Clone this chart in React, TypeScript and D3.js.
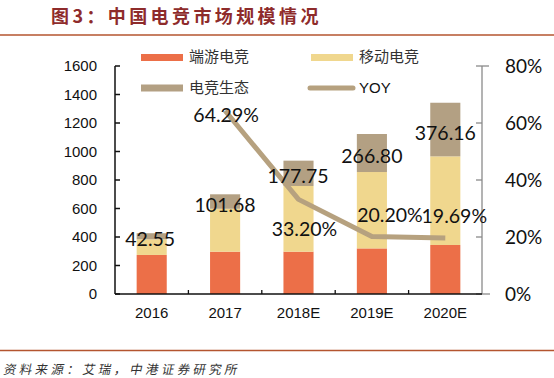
import React from "react";
import * as d3 from "d3";

const categories = ["2016", "2017", "2018E", "2019E", "2020E"];
const pcGame = [274, 297, 297, 320, 344];
const mobileGame = [110, 301, 461, 536, 622];
const ecosystem = [42.55, 101.68, 177.75, 266.8, 376.16];
const ecoLabels = ["42.55", "101.68", "177.75", "266.80", "376.16"];
const yoyCats = ["2017", "2018E", "2019E", "2020E"];
const yoy = [64.29, 33.2, 20.2, 19.69];
const yoyLabels = ["64.29%", "33.20%", "20.20%", "19.69%"];
const leftTicks = [0, 200, 400, 600, 800, 1000, 1200, 1400, 1600];
const rightTicks = [0, 20, 40, 60, 80];
const seriesNames = ["端游电竞", "移动电竞", "电竞生态", "YOY"];

const COLORS = { pc: "#ec6f48", mobile: "#f0d78e", eco: "#b3a083", yoy: "#b6a17f" };
// manual label offsets (style only)
const yoyLabelOffset = [
  [1, 4],
  [6, 30],
  [18, -21],
  [9, -22],
];
const ecoLabelDx = [-1.5, 0, -0.5, 0, 0];

export default function App() {
  const left = 115, right = 482, top = 66, bottom = 294;
  const x = d3.scaleBand<string>().domain(categories).range([left, right]).paddingInner(0.59).paddingOuter(0.295);
  const y = d3.scaleLinear().domain([0, 1600]).range([bottom, top]);
  const y2 = d3.scaleLinear().domain([0, 80]).range([bottom, top]);
  const bw = x.bandwidth();
  const step = x.step();
  const cx = (c: string) => (x(c) as number) + bw / 2;

  const stacked = d3.stack<any>().keys(["pc", "mobile", "eco"])(
    categories.map((c, i) => ({ cat: c, pc: pcGame[i], mobile: mobileGame[i], eco: ecosystem[i] }))
  );
  const colorFor: Record<string, string> = { pc: COLORS.pc, mobile: COLORS.mobile, eco: COLORS.eco };

  const line = d3
    .line<number>()
    .x((_, i) => cx(yoyCats[i]))
    .y((d) => y2(d));

  const numFont = "Lato, 'Open Sans', sans-serif";
  const axFont = "'Liberation Sans', Arial, sans-serif";
  const cjk = "'Noto Sans CJK SC', sans-serif";

  return (
    <svg width={554} height={378} style={{ position: "absolute", left: 0, top: 0, background: "#fff" }}>
      {/* title */}
      <text x={51} y={23} fontFamily={cjk} fontWeight={700} fontSize={18} fill="#8e2b2b" letterSpacing={3.4}>
        图3：中国电竞市场规模情况
      </text>
      <line x1={0} x2={554} y1={35} y2={35} stroke="#b4552f" strokeWidth={1.5} />

      {/* bars */}
      {stacked.map((s) => (
        <g key={s.key} fill={colorFor[s.key]}>
          {s.map((d, i) => (
            <rect key={i} x={x(categories[i])} width={bw} y={y(d[1])} height={y(d[0]) - y(d[1])} />
          ))}
        </g>
      ))}

      {/* left axis */}
      <line x1={left} x2={left} y1={top} y2={bottom} stroke="#111" strokeWidth={1.5} />
      {leftTicks.map((t) => (
        <g key={t}>
          <line x1={left} x2={left + 5} y1={y(t)} y2={y(t)} stroke="#111" strokeWidth={1.5} />
          <text x={97} y={y(t)} dy="0.36em" textAnchor="end" fontFamily={axFont} fontSize={15} fill="#111">
            {t}
          </text>
        </g>
      ))}

      {/* right axis */}
      <line x1={right} x2={right} y1={top} y2={bottom} stroke="#8a8a8a" strokeWidth={1.3} />
      {rightTicks.map((t) => (
        <g key={t}>
          <line x1={right - 6} x2={right} y1={y2(t)} y2={y2(t)} stroke="#8a8a8a" strokeWidth={1.3} />
          <text x={505} y={y2(t)} dy="0.36em" fontFamily={numFont} fontSize={19} fill="#111">
            {t}%
          </text>
        </g>
      ))}
      <line x1={right} x2={right + 7} y1={top} y2={top} stroke="#8a8a8a" strokeWidth={1.3} />

      {/* bottom axis */}
      <line x1={left} x2={right} y1={bottom} y2={bottom} stroke="#111" strokeWidth={1.5} />
      <line x1={right} x2={490} y1={bottom} y2={bottom} stroke="#8a8a8a" strokeWidth={1.3} />
      {categories.slice(1).map((c) => (
        <line key={c} x1={(x(c) as number) - (step - bw) / 2} x2={(x(c) as number) - (step - bw) / 2} y1={bottom} y2={bottom - 4} stroke="#111" strokeWidth={1.3} />
      ))}
      {categories.map((c) => (
        <text key={c} x={cx(c)} y={313} dy="0.36em" textAnchor="middle" fontFamily={axFont} fontSize={15} fill="#111">
          {c}
        </text>
      ))}

      {/* YOY line */}
      <path d={line(yoy) || ""} fill="none" stroke={COLORS.yoy} strokeWidth={5} strokeLinejoin="round" />

      {/* eco labels */}
      {ecoLabels.map((l, i) => {
        const s = stacked[2][i];
        return (
          <text key={l} x={cx(categories[i]) + ecoLabelDx[i]} y={(y(s[0]) + y(s[1])) / 2 + 3} dy="0.36em" textAnchor="middle" fontFamily={numFont} fontSize={19.5} fill="#111">
            {l}
          </text>
        );
      })}
      {/* yoy labels */}
      {yoyLabels.map((l, i) => (
        <text key={l} x={cx(yoyCats[i]) + yoyLabelOffset[i][0]} y={y2(yoy[i]) + yoyLabelOffset[i][1]} dy="0.36em" textAnchor="middle" fontFamily={numFont} fontSize={19.5} fill="#111">
          {l}
        </text>
      ))}

      {/* legend */}
      <rect x={141} y={54} width={42} height={7} fill={COLORS.pc} />
      <text x={189} y={57} dy="0.36em" fontFamily={cjk} fontSize={15} fill="#333">{seriesNames[0]}</text>
      <rect x={311} y={54} width={42} height={7} fill={COLORS.mobile} />
      <text x={359} y={57} dy="0.36em" fontFamily={cjk} fontSize={15} fill="#333">{seriesNames[1]}</text>
      <rect x={141} y={84.5} width={42} height={7} fill={COLORS.eco} />
      <text x={189} y={88} dy="0.36em" fontFamily={cjk} fontSize={15} fill="#333">{seriesNames[2]}</text>
      <line x1={310} x2={353} y1={88} y2={88} stroke={COLORS.yoy} strokeWidth={5} strokeLinecap="round" />
      <text x={359} y={88} dy="0.36em" fontFamily={axFont} fontSize={15} fill="#111">{seriesNames[3]}</text>

      {/* footer */}
      <line x1={0} x2={554} y1={350.5} y2={350.5} stroke="#b4552f" strokeWidth={1.5} />
      <g transform="translate(4,369) skewX(-12)">
        <text x={0} y={0} dy="0.36em" fontFamily={cjk} fontSize={12.5} fill="#333" letterSpacing={3.3}>
          资料来源：艾瑞，中港证券研究所
        </text>
      </g>
    </svg>
  );
}
